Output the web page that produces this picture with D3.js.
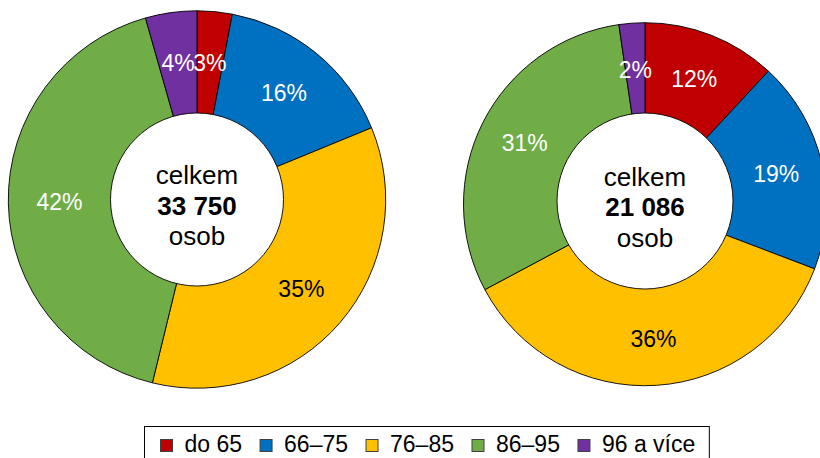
<!DOCTYPE html>
<html>
<head>
<meta charset="utf-8">
<script src="https://cdn.jsdelivr.net/npm/d3@7"></script>
<style>
  html, body { margin: 0; padding: 0; background: #fff; }
  svg { display: block; font-family: "Liberation Sans", Arial, sans-serif; }
</style>
</head>
<body>
<svg id="chart" width="820" height="458"></svg>
<script>
// ---- data ----
const categories = ["do 65", "66–75", "76–85", "86–95", "96 a více"];
const colors = ["#C00000", "#0070C0", "#FFC000", "#70AD47", "#7030A0"];
const labelColors = ["#fff", "#fff", "#000", "#fff", "#fff"];
const leftValues = [3.0, 15.8, 35.0, 41.8, 4.4];
const rightValues = [11.9, 18.9, 36.4, 30.5, 2.3];
const totals = ["33 750", "21 086"];
const centerLines = ["celkem", "osob"];

// ---- layout ----
const svg = d3.select("#chart");
const donuts = [
  { values: leftValues, total: totals[0], cx: 197, cy: 199.5, r: 188.7, ir: 86.5, icy: 199.5 },
  { values: rightValues, total: totals[1], cx: 645, cy: 204.2, r: 181.5, ir: 88, icy: 201 }
];

const pie = d3.pie().sort(null).value(d => d);

donuts.forEach(dn => {
  const g = svg.append("g").attr("transform", `translate(${dn.cx},${dn.cy})`);
  const arcs = pie(dn.values);
  const arc = d3.arc().innerRadius(0).outerRadius(dn.r);
  g.selectAll("path.slice").data(arcs).join("path")
    .attr("class", "slice")
    .attr("d", arc)
    .attr("fill", (d, i) => colors[i])
    .attr("stroke", "#000")
    .attr("stroke-width", 0.9);

  const labelArc = d3.arc().innerRadius((dn.r + dn.ir) / 2).outerRadius((dn.r + dn.ir) / 2);
  g.selectAll("text.pct").data(arcs).join("text")
    .attr("class", "pct")
    .attr("transform", d => `translate(${labelArc.centroid(d)})`)
    .attr("text-anchor", "middle")
    .attr("dominant-baseline", "central")
    .attr("font-size", 23)
    .attr("fill", (d, i) => labelColors[i])
    .text(d => Math.round(d.data) + "%");

  // hole
  const hg = svg.append("g").attr("transform", `translate(${dn.cx},${dn.icy})`);
  hg.append("circle")
    .attr("r", dn.ir)
    .attr("fill", "#fff")
    .attr("stroke", "#000")
    .attr("stroke-width", 0.9);
  hg.append("text").attr("y", -15.5).attr("text-anchor", "middle")
    .attr("font-size", 26).attr("fill", "#000").text(centerLines[0]);
  hg.append("text").attr("y", 15).attr("text-anchor", "middle")
    .attr("font-size", 26).attr("font-weight", "bold").attr("fill", "#000").text(dn.total);
  hg.append("text").attr("y", 45.5).attr("text-anchor", "middle")
    .attr("font-size", 26).attr("fill", "#000").text(centerLines[1]);
});

// ---- legend ----
const legend = svg.append("g");
const legBox = legend.append("rect")
  .attr("x", 144.5).attr("y", 426.5).attr("height", 50)
  .attr("fill", "#fff").attr("stroke", "#000").attr("stroke-width", 1);
let x = 160.5;
categories.forEach((c, i) => {
  legend.append("rect")
    .attr("x", x).attr("y", 439.5).attr("width", 12).attr("height", 12)
    .attr("fill", colors[i]).attr("stroke", "#404040").attr("stroke-width", 1);
  const t = legend.append("text")
    .attr("x", x + 24).attr("y", 451.5)
    .attr("font-size", 23).attr("fill", "#000").text(c);
  const w = t.node().getComputedTextLength();
  x += 24 + w + 18;
});
legBox.attr("width", x - 18 + 14 - 144.5);
</script>
</body>
</html>
